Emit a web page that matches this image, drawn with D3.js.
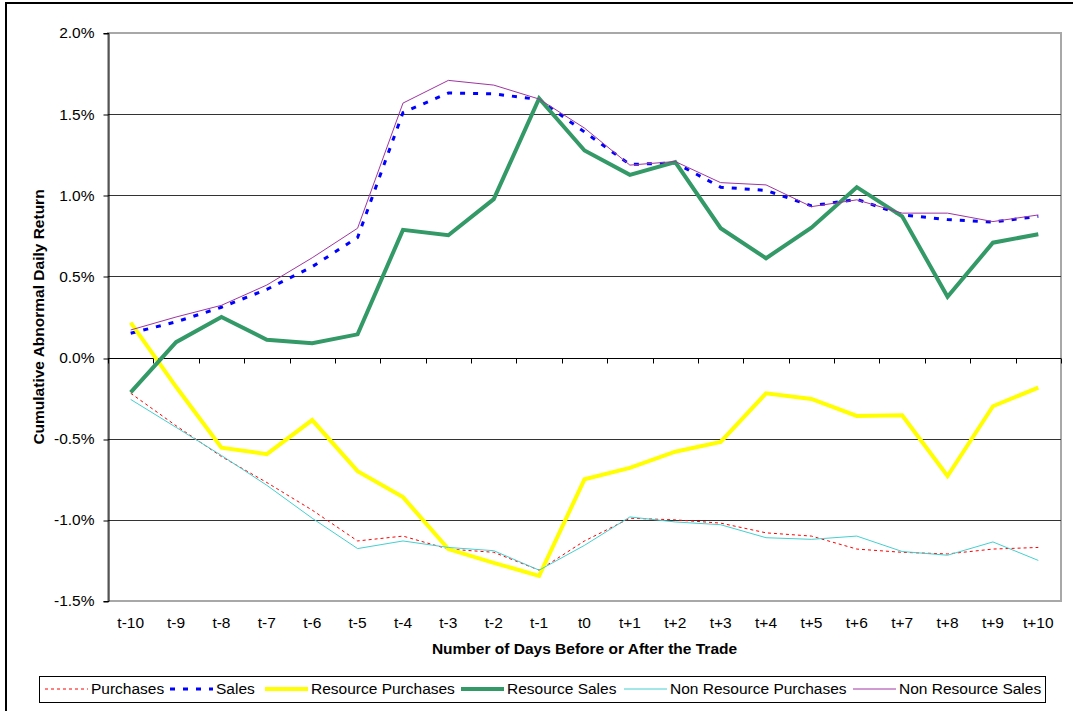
<!DOCTYPE html>
<html>
<head>
<meta charset="utf-8">
<script src="https://cdn.jsdelivr.net/npm/d3@7/dist/d3.min.js"></script>
<style>
  html, body { margin: 0; padding: 0; background: #fff; }
  svg { display: block; font-family: "Liberation Sans", Arial, sans-serif; }
</style>
</head>
<body>
<svg id="chart" width="1073" height="711"></svg>
<script>
// Trading days around the trade date
const categories = ["t-10","t-9","t-8","t-7","t-6","t-5","t-4","t-3","t-2","t-1","t0",
                    "t+1","t+2","t+3","t+4","t+5","t+6","t+7","t+8","t+9","t+10"];

// Cumulative abnormal daily return (%) per group
const purchases = [-0.22,-0.42,-0.61,-0.77,-0.94,-1.13,-1.10,-1.18,-1.20,-1.31,-1.13,
                   -0.99,-1.00,-1.02,-1.08,-1.10,-1.18,-1.20,-1.21,-1.18,-1.17];
const sales = [0.15,0.22,0.31,0.42,0.56,0.74,1.51,1.63,1.625,1.59,1.39,
               1.19,1.20,1.05,1.03,0.935,0.975,0.88,0.85,0.835,0.87];
const resourcePurchases = [0.215,-0.18,-0.555,-0.595,-0.385,-0.70,-0.86,-1.18,-1.265,-1.345,-0.75,
                           -0.68,-0.58,-0.52,-0.22,-0.255,-0.36,-0.355,-0.73,-0.30,-0.185];
const resourceSales = [-0.215,0.095,0.25,0.11,0.088,0.143,0.787,0.754,0.976,1.597,1.276,
                       1.126,1.204,0.797,0.612,0.80,1.05,0.87,0.375,0.708,0.76];
const nonResourcePurchases = [-0.258,-0.43,-0.603,-0.787,-0.99,-1.177,-1.13,-1.17,-1.19,-1.31,-1.157,
                              -0.982,-1.013,-1.03,-1.11,-1.12,-1.10,-1.195,-1.218,-1.136,-1.25];
const nonResourceSales = [0.17,0.25,0.322,0.447,0.615,0.797,1.568,1.708,1.679,1.593,1.414,
                          1.186,1.208,1.078,1.064,0.93,0.972,0.89,0.89,0.838,0.879];

// Y axis tick values (%)
const yTicks = [-1.5,-1.0,-0.5,0.0,0.5,1.0,1.5,2.0];

// Series names in legend order
const seriesNames = ["Purchases","Sales","Resource Purchases","Resource Sales",
                     "Non Resource Purchases","Non Resource Sales"];
const seriesValues = [purchases, sales, resourcePurchases, resourceSales,
                      nonResourcePurchases, nonResourceSales];

// Line styles per series
const styles = [
  { color: "#ff0000", width: 1,   dash: "3,3" },
  { color: "#0000ff", width: 3,   dash: "5,8" },
  { color: "#ffff00", width: 4,   dash: null },
  { color: "#339966", width: 4,   dash: null },
  { color: "#44d0d0", width: 1,   dash: null },
  { color: "#9e36a0", width: 1,   dash: null }
];

const FONT = 15.5;
const svg = d3.select("#chart");
const plot = { left: 108, right: 1061, top: 33, bottom: 601 };

// Outer frame
svg.append("rect")
  .attr("x", 6).attr("y", 3).attr("width", 1200).attr("height", 900)
  .attr("fill", "#fff").attr("stroke", "#000").attr("stroke-width", 2);

const x = d3.scaleBand().domain(categories).range([plot.left, plot.right]).padding(0);
const y = d3.scaleLinear().domain([-1.5, 2.0]).range([plot.bottom, plot.top]);
const cx = c => x(c) + x.bandwidth() / 2;
const crisp = v => Math.round(v) + 0.5;

// Plot-area border
svg.append("rect")
  .attr("x", plot.left).attr("y", plot.top)
  .attr("width", plot.right - plot.left).attr("height", plot.bottom - plot.top)
  .attr("fill", "none").attr("stroke", "#a8a8a8").attr("stroke-width", 2);

// Horizontal gridlines
svg.append("g").selectAll("line")
  .data(yTicks.filter(v => v > -1.5 && v < 2.0))
  .join("line")
  .attr("x1", plot.left).attr("x2", plot.right)
  .attr("y1", d => crisp(y(d))).attr("y2", d => crisp(y(d)))
  .attr("stroke", "#333").attr("stroke-width", 1);

// Y axis
const yAxis = svg.append("g")
  .attr("transform", `translate(${crisp(plot.left)},0)`)
  .call(d3.axisLeft(y).tickValues(yTicks).tickSize(5).tickPadding(9)
        .tickFormat(d => d.toFixed(1) + "%"));
yAxis.select(".domain").attr("stroke", "#000");
yAxis.selectAll(".tick line").attr("stroke", "#000")
  .attr("transform", function(d) { return `translate(0,${crisp(y(d)) - y(d)})`; });
yAxis.selectAll("text").attr("font-size", FONT).attr("fill", "#000")
  .attr("font-family", "'Liberation Sans', Arial, sans-serif");

// X axis line at zero with ticks between categories
const y0 = crisp(y(0));
svg.append("line")
  .attr("x1", plot.left).attr("x2", plot.right)
  .attr("y1", y0).attr("y2", y0)
  .attr("stroke", "#000").attr("stroke-width", 1);
const boundaries = categories.map(c => x(c)).concat([x.range()[1]]);
svg.append("g").selectAll("line")
  .data(boundaries)
  .join("line")
  .attr("x1", d => crisp(d)).attr("x2", d => crisp(d))
  .attr("y1", y0).attr("y2", y0 + 5)
  .attr("stroke", "#000").attr("stroke-width", 1);

// Category labels along the bottom
const xAxis = svg.append("g")
  .attr("transform", `translate(0,${plot.bottom})`)
  .call(d3.axisBottom(x).tickSize(0).tickPadding(16));
xAxis.select(".domain").remove();
xAxis.selectAll("text").attr("font-size", FONT).attr("fill", "#000")
  .attr("font-family", "'Liberation Sans', Arial, sans-serif");

// Series lines
const line = d3.line().x((d, i) => cx(categories[i])).y(d => y(d));
seriesValues.forEach((vals, i) => {
  const s = styles[i];
  svg.append("path")
    .datum(vals)
    .attr("d", line)
    .attr("fill", "none")
    .attr("stroke", s.color)
    .attr("stroke-width", s.width)
    .attr("stroke-linejoin", "miter")
    .attr("stroke-dasharray", s.dash);
});

// Axis titles
svg.append("text")
  .attr("x", (plot.left + plot.right) / 2).attr("y", 653.5)
  .attr("text-anchor", "middle").attr("font-size", FONT).attr("font-weight", "bold")
  .text("Number of Days Before or After the Trade");
svg.append("text")
  .attr("transform", `translate(43.5,${(plot.top + plot.bottom) / 2}) rotate(-90)`)
  .attr("text-anchor", "middle").attr("font-size", FONT).attr("font-weight", "bold")
  .text("Cumulative Abnormal Daily Return");

// Legend
const legendBox = { x: 39, y: 676, w: 1006, h: 26 };
svg.append("rect")
  .attr("x", legendBox.x + 0.5).attr("y", legendBox.y + 0.5)
  .attr("width", legendBox.w).attr("height", legendBox.h)
  .attr("fill", "#fff").attr("stroke", "#000").attr("stroke-width", 1);
const legendStarts = [45, 170, 265, 461, 624, 853];
const legendLine = 43;
const ly = legendBox.y + legendBox.h / 2;
seriesNames.forEach((name, i) => {
  const s = styles[i];
  const x0 = legendStarts[i];
  svg.append("line")
    .attr("x1", x0).attr("x2", x0 + legendLine)
    .attr("y1", ly).attr("y2", ly)
    .attr("stroke", s.color).attr("stroke-width", s.width)
    .attr("stroke-dasharray", s.dash);
  svg.append("text")
    .attr("x", x0 + legendLine + 3).attr("y", ly)
    .attr("dy", "0.35em").attr("font-size", FONT).attr("fill", "#000")
    .text(name);
});
</script>
</body>
</html>
